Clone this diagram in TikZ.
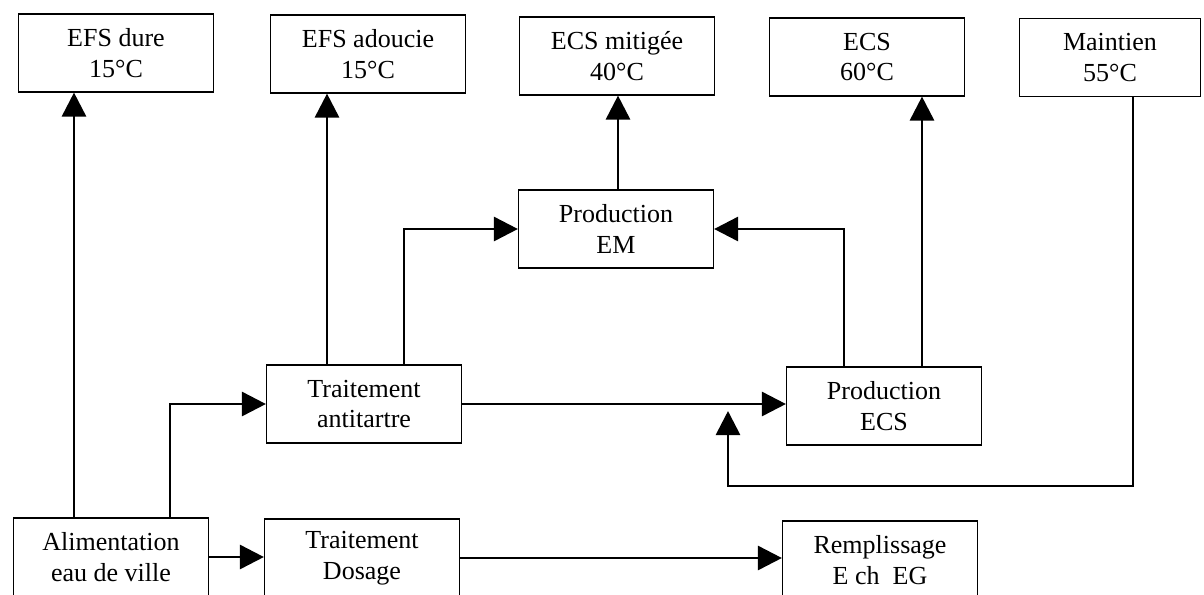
\documentclass[tikz,border=0pt]{standalone}
\usepackage{fontspec}
\setmainfont{Liberation Serif}
\usetikzlibrary{arrows.meta}
\tikzset{
	bloc/.style={draw, line width=0.8pt, minimum width=4.875cm, minimum height=1.95cm, align=center, inner sep=2pt, font=\fontsize{18.5}{22}\selectfont},
	flux/.style={line width=2pt, -{Triangle[length=6mm,width=6mm]}}
}
\begin{document}
\begin{tikzpicture}[x=0.025cm, y=-0.025cm]
				\useasboundingbox (0,0) rectangle (1204,594);
				\fill[white] (0,0) rectangle (1204,594);
				\clip (0,0) rectangle (1204,594);
				\foreach \nom/\x/\y/\txt in {efsdure/116/53/{EFS dure\\15°C}, efsadou/368/54/{EFS adoucie\\15°C}, ecsmit/617/56/{ECS mitigée\\40°C}, ecs/867/57/{ECS\\60°C}}{
					\node[bloc] (\nom) at (\x,\y) {\txt};
				}
				\node[bloc, minimum width=4.525cm] (maintien) at (1110,57.5) {Maintien\\55°C};
				\node[bloc] (prodem) at (616,229) {Production\\EM};
				\node[bloc] (anti) at (364,404) {Traitement\\antitartre};
				\node[bloc] (prodecs) at (884,406) {Production\\ECS};
				\node[bloc] (alim) at (111,557) {Alimentation\\eau de ville};
				\node[bloc] (dosage) at (362,558) {Traitement\\Dosage};
				\node[bloc] (rempl) at (880,560) {Remplissage\\E ch~~EG};
				\foreach \x/\de/\vers in {74/alim/efsdure, 327/anti/efsadou, 618/prodem/ecsmit, 922/prodecs/ecs}{
					\draw[flux] (\x,0 |- \de.north) -- (\x,0 |- \vers.south);
				}
				\draw[flux] (170,0 |- alim.north) |- (anti.west);
				\draw[flux] (404,0 |- anti.north) |- (prodem.west);
				\draw[flux] (844,0 |- prodecs.north) |- (prodem.east);
				\draw[flux] (alim.east) -- (alim.east -| dosage.west);
				\draw[flux] (dosage.east) -- (dosage.east -| rempl.west);
				\draw[flux] (anti.east) -- (anti.east -| prodecs.west);
				\coordinate (retour) at (728,486);
				\coordinate (pointe) at (728,411);
				\draw[flux] (1133,0 |- maintien.south) |- (retour) -- (pointe);
			\end{tikzpicture}
\end{document}
